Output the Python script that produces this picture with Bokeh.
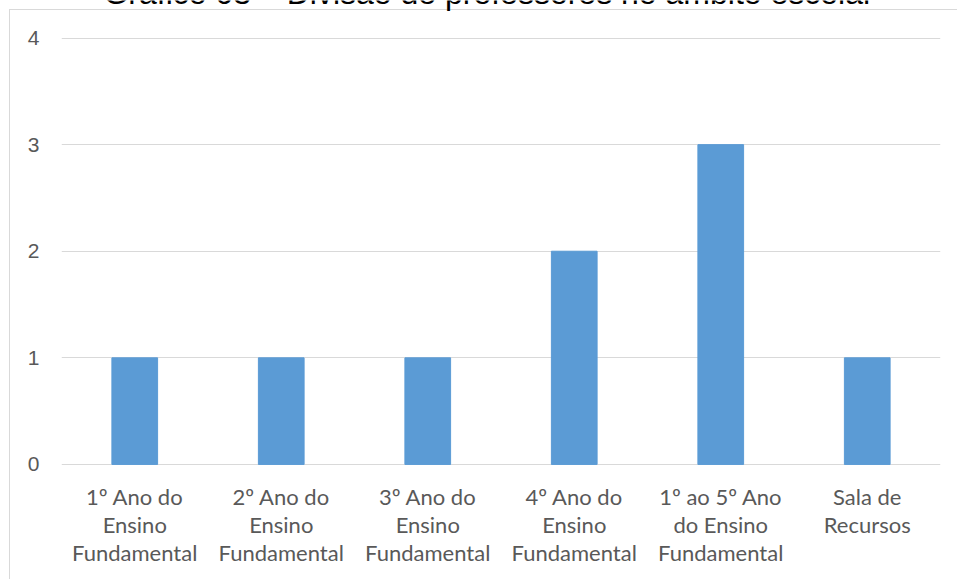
from bokeh.plotting import figure
from bokeh.models import FactorRange, Range1d, FixedTicker
from bokeh.core.properties import value
from bokeh.embed import file_html
from bokeh.resources import INLINE

# Teachers per school level (factor text carries the wrapped axis label)
categories = [
    "1º Ano do\nEnsino\nFundamental",
    "2º Ano do\nEnsino\nFundamental",
    "3º Ano do\nEnsino\nFundamental",
    "4º Ano do\nEnsino\nFundamental",
    "1º ao 5º Ano\ndo Ensino\nFundamental",
    "Sala de\nRecursos",
]
professores = [1, 1, 1, 2, 3, 1]
y_ticks = [0, 1, 2, 3, 4]
title_text = "Gráfico 03 – Divisão de professores no âmbito escolar"

W, H = 957, 579
# the plot frame reaches the top of the canvas so the title can sit above the 4-line
p = figure(
    width=W, height=H,
    x_range=FactorRange(*categories, range_padding=0),
    y_range=Range1d(-0.01, 4.352),
    output_backend="svg", toolbar_location=None,
    min_border_left=61, min_border_right=17,
    min_border_top=0, min_border_bottom=114,
)
p.outline_line_color = None
p.background_fill_color = None
p.border_fill_color = None
# light grey chart-area border along the top and left edges
p.styles = {
    "background-color": "white",
    "box-shadow": "inset 9px 9px 0 0 #ffffff, inset 10px 10px 0 0 #d9d9d9",
}

p.vbar(x=categories, top=professores, width=0.312, color="#5b9bd5")

# gridlines
p.xgrid.grid_line_color = None
p.ygrid.grid_line_color = "#d9d9d9"
p.ygrid.grid_line_width = 1
p.yaxis.ticker = FixedTicker(ticks=y_ticks)

for ax in (p.xaxis, p.yaxis):
    ax.axis_line_color = None
    ax.major_tick_line_color = None
    ax.minor_tick_line_color = None
    ax.major_tick_out = 0
    ax.major_tick_in = 0

p.yaxis.major_label_text_font = "Liberation Sans"
p.yaxis.major_label_text_font_size = "21px"
p.yaxis.major_label_text_color = "#595959"
p.yaxis.major_label_standoff = 22

p.xaxis.major_label_text_font = "Lato"
p.xaxis.major_label_text_font_size = "22px"
p.xaxis.major_label_text_color = "#595959"
p.xaxis.major_label_standoff = 17
p.xaxis.major_label_text_line_height = 1.05

# chart title, running off the top of the page
p.text(
    x=[2.915], y=[4.427], text=[title_text],
    text_align="center", text_baseline="middle",
    text_font=value("Liberation Sans"),
    text_font_size="32px", text_color="#000000",
)

open("out.html", "w").write(file_html(p, INLINE))
